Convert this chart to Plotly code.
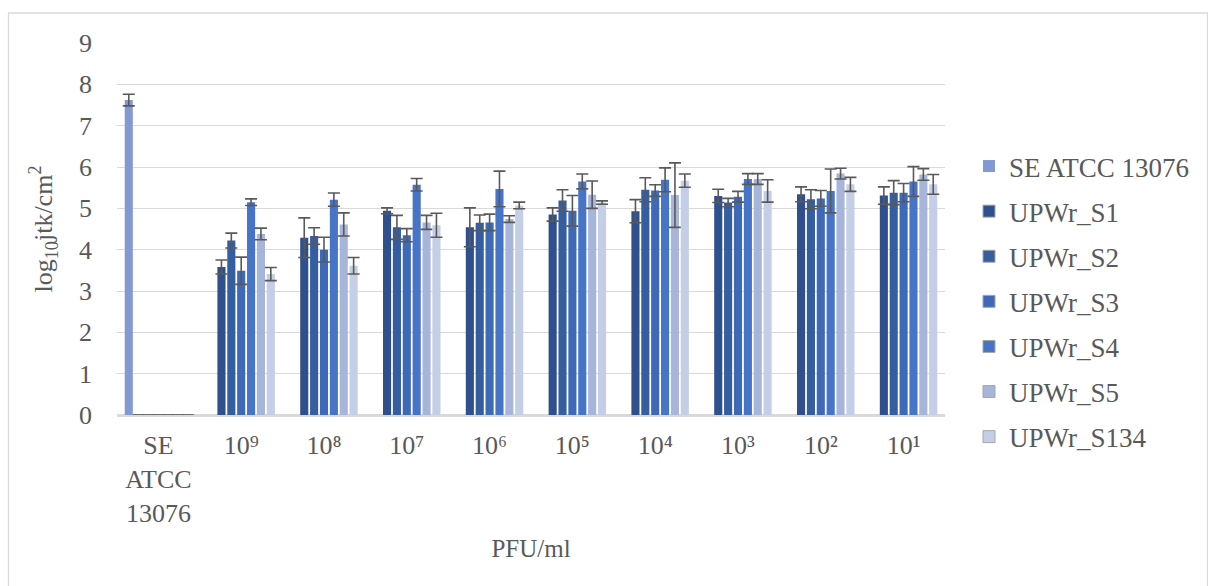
import plotly.graph_objects as go

# Categories on the x axis and their displayed labels
categories = ["SE ATCC 13076", "1e9", "1e8", "1e7", "1e6", "1e5", "1e4", "1e3", "1e2", "1e1"]
tick_labels = ["SE<br>ATCC<br>13076", "10⁹", "10⁸", "10⁷", "10⁶", "10⁵", "10⁴", "10³", "10²", "10¹"]

# Mean log10 counts per series and their error bars
se_atcc = [7.62, None, None, None, None, None, None, None, None, None]
se_atcc_err = [0.14, None, None, None, None, None, None, None, None, None]

upwr_s1 = [0, 3.58, 4.29, 4.94, 4.54, 4.85, 4.93, 5.30, 5.34, 5.31]
upwr_s1_err = [None, 0.17, 0.48, 0.07, 0.47, 0.16, 0.28, 0.16, 0.18, 0.21]

upwr_s2 = [0, 4.22, 4.33, 4.54, 4.65, 5.19, 5.45, 5.14, 5.22, 5.38]
upwr_s2_err = [None, 0.18, 0.20, 0.29, 0.19, 0.26, 0.29, 0.10, 0.23, 0.29]

upwr_s3 = [0, 3.49, 4.00, 4.35, 4.66, 4.94, 5.43, 5.28, 5.24, 5.38]
upwr_s3_err = [None, 0.33, 0.30, 0.16, 0.20, 0.37, 0.14, 0.13, 0.19, 0.22]

upwr_s4 = [0, 5.15, 5.21, 5.57, 5.47, 5.65, 5.69, 5.71, 5.42, 5.65]
upwr_s4_err = [None, 0.08, 0.16, 0.15, 0.43, 0.18, 0.29, 0.13, 0.53, 0.36]

upwr_s5 = [0, 4.38, 4.61, 4.66, 4.74, 5.33, 5.32, 5.71, 5.84, 5.82]
upwr_s5_err = [None, 0.14, 0.28, 0.17, 0.08, 0.33, 0.78, 0.13, 0.13, 0.14]

upwr_s134 = [0, 3.41, 3.61, 4.59, 5.07, 5.14, 5.67, 5.42, 5.58, 5.58]
upwr_s134_err = [None, 0.16, 0.20, 0.29, 0.08, 0.04, 0.16, 0.27, 0.17, 0.24]

series = [
    ("SE ATCC 13076", se_atcc, se_atcc_err, "#8299d1"),
    ("UPWr_S1", upwr_s1, upwr_s1_err, "#2f508c"),
    ("UPWr_S2", upwr_s2, upwr_s2_err, "#355ea0"),
    ("UPWr_S3", upwr_s3, upwr_s3_err, "#3d69b6"),
    ("UPWr_S4", upwr_s4, upwr_s4_err, "#4674c6"),
    ("UPWr_S5", upwr_s5, upwr_s5_err, "#a7b5da"),
    ("UPWr_S134", upwr_s134, upwr_s134_err, "#c4cee6"),
]

FONT = "Liberation Serif"
TEXT = "#595959"
GRID = "#d9d9d9"

# plot-area pixel geometry
L, R, T, B = 117, 263, 43, 171
W, H = 1208, 586
PW, PH = W - L - R, H - T - B


def px_x(px):
    return (px - L) / PW


def px_y(py):
    return (H - B - py) / PH


fig = go.Figure()
for i, (name, vals, errs, color) in enumerate(series):
    # zero-valued bars are drawn as a thin baseline stroke
    lw = [1 if (v == 0) else 0 for v in vals]
    fig.add_trace(go.Bar(
        x=categories, y=vals, name=name,
        legendgroup=f"g{i}",
        marker=dict(color=color, line=dict(width=lw, color="#a6a6a6")),
        error_y=dict(type="data", array=errs, visible=True,
                     color="#595959", thickness=1.6, width=6),
    ))

fig.update_layout(
    width=W, height=H,
    margin=dict(l=L, r=R, t=T, b=B, autoexpand=False),
    paper_bgcolor="white", plot_bgcolor="white",
    barmode="group", bargap=0.165, bargroupgap=0.18,
    font=dict(family=FONT, size=26, color=TEXT),
    showlegend=True,
    legend=dict(
        x=px_x(969), xanchor="left", y=px_y(142), yanchor="top",
        traceorder="grouped", tracegroupgap=7,
        font=dict(family=FONT, size=27, color=TEXT),
        itemwidth=30, bgcolor="rgba(0,0,0,0)",
    ),
    xaxis=dict(
        type="category", tickmode="array", tickvals=categories, ticktext=tick_labels,
        showgrid=False, showline=True, linecolor=GRID, linewidth=1.5,
        ticks="", ticklabelstandoff=6,
        tickfont=dict(family=FONT, size=26, color=TEXT),
        title=dict(text="PFU/ml", standoff=13,
                   font=dict(family=FONT, size=25, color=TEXT)),
    ),
    yaxis=dict(
        range=[0, 9], dtick=1, showgrid=True, gridcolor=GRID, gridwidth=1.4,
        zeroline=True, zerolinecolor=GRID, zerolinewidth=1.5,
        ticks="", ticklabelstandoff=24,
        tickfont=dict(family=FONT, size=26, color=TEXT),
        title=dict(text="log<sub>10</sub>jtk/cm<sup>2</sup>", standoff=18,
                   font=dict(family=FONT, size=26, color=TEXT)),
    ),
    shapes=[dict(
        type="rect", xref="paper", yref="paper",
        x0=px_x(8.5), x1=px_x(1207.5), y0=px_y(620), y1=px_y(13),
        line=dict(color=GRID, width=1.3), fillcolor="rgba(0,0,0,0)", layer="below",
    )],
)

fig.write_html("out.html")
